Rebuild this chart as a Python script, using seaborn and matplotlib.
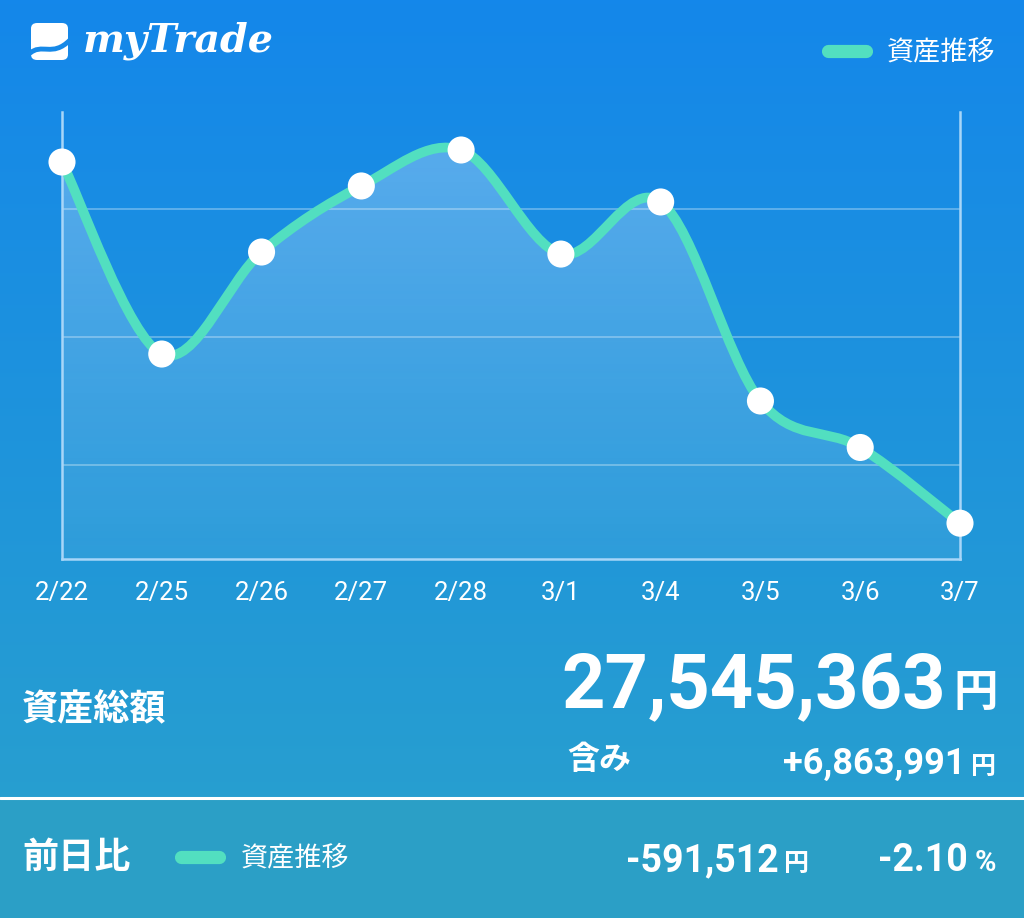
import matplotlib
matplotlib.use("Agg")
import matplotlib.pyplot as plt
import numpy as np
import pandas as pd
import seaborn as sns
from matplotlib.path import Path
from matplotlib.patches import PathPatch, FancyBboxPatch, Rectangle
from matplotlib.lines import Line2D

sns.set_theme(style="white")
plt.rcParams['font.family'] = ['Roboto', 'Noto Sans CJK JP', 'DejaVu Sans']

# データ (資産推移)
dates = ["2/22", "2/25", "2/26", "2/27", "2/28", "3/1", "3/4", "3/5", "3/6", "3/7"]
assets = [30367000, 28867000, 29664000, 30180000, 30461000,
          29648000, 30055000, 28500000, 28136875, 27545363]
grid_levels = [28000000, 29000000, 30000000]
total_text = "27,545,363"
included_text = "+6,863,991"
diff_text = "-591,512"
pct_text = "-2.10"

W, H = 1024, 918
LINE_C = "#52DFC0"

df = pd.DataFrame({"date": dates, "asset": assets})
df["x"] = range(len(df))

fig = plt.figure(figsize=(W / 100, H / 100), dpi=100)


def px(x, y):
    return x / W, 1 - y / H


# 背景グラデーション
bg = fig.add_axes([0, 0, 1, 1], zorder=-10)
top_c = np.array([20, 135, 234]) / 255
bot_c = np.array([42, 162, 204]) / 255
t = np.linspace(0, 1, 256)[:, None]
grad = top_c[None, :] * (1 - t) + bot_c[None, :] * t
bg.imshow(grad[:, None, :], aspect="auto", extent=(0, 1, 0, 1))
bg.add_patch(Rectangle((0, 0), 1, (H - 798) / H, color="#2B9FC6", zorder=2))
bg.axhline((H - 798) / H, color="white", lw=2.2, zorder=3)
bg.set_xlim(0, 1)
bg.set_ylim(0, 1)
bg.axis("off")

# メインチャート
ax = fig.add_axes([62 / W, (H - 559) / H, 898 / W, 447 / H])
ax.set_facecolor("none")

ymin, ymax = 27265625, 30757812
ax.set_xlim(0, len(dates) - 1)
ax.set_ylim(ymin, ymax)

# 滑らかな曲線 (Catmull-Rom -> Bezier)
xs = df["x"].to_numpy(float)
ys = df["asset"].to_numpy(float)
n = len(xs)
verts = [(xs[0], ys[0])]
codes = [Path.MOVETO]
for i in range(n - 1):
    p0 = np.array([xs[max(i - 1, 0)], ys[max(i - 1, 0)]])
    p1 = np.array([xs[i], ys[i]])
    p2 = np.array([xs[i + 1], ys[i + 1]])
    p3 = np.array([xs[min(i + 2, n - 1)], ys[min(i + 2, n - 1)]])
    c1 = p1 + (p2 - p0) / 6
    c2 = p2 - (p3 - p1) / 6
    verts += [tuple(c1), tuple(c2), tuple(p2)]
    codes += [Path.CURVE4] * 3

line_path = Path(verts, codes)
fill_verts = verts + [(xs[-1], ymin), (xs[0], ymin), (xs[0], ys[0])]
fill_codes = codes + [Path.LINETO, Path.LINETO, Path.CLOSEPOLY]
fill_patch = PathPatch(Path(fill_verts, fill_codes), facecolor="none", edgecolor="none")
ax.add_patch(fill_patch)

ga = np.linspace(0, 1, 256)[:, None]
rgba = np.ones((256, 1, 4))
rgba[:, 0, 3] = 0.30 * (1 - ga[:, 0]) + 0.06 * ga[:, 0]
im = ax.imshow(rgba, aspect="auto", extent=(0, n - 1, ymin, ymax), origin="upper", zorder=1)
im.set_clip_path(fill_patch)

for g in grid_levels:
    ax.axhline(g, color="white", alpha=0.35, lw=1.2, zorder=0.5)

ax.add_patch(PathPatch(line_path, facecolor="none", edgecolor=LINE_C, lw=7,
                       capstyle="round", joinstyle="round", zorder=3))

sns.scatterplot(data=df, x="x", y="asset", ax=ax, s=380, color="white",
                edgecolor="none", zorder=4, clip_on=False, legend=False)

ax.set_xticks(df["x"])
ax.set_xticklabels(dates)
ax.set_yticks([])
ax.set_xlabel("")
ax.set_ylabel("")
ax.tick_params(axis="x", length=0, pad=16, labelsize=18.5, labelcolor="white")
for side in ["left", "right", "bottom"]:
    ax.spines[side].set_visible(True)
    ax.spines[side].set_color("#A8D6F8")
    ax.spines[side].set_linewidth(1.8)
ax.spines["top"].set_visible(False)

# ロゴ
logo = FancyBboxPatch(px(31, 60), 37 / W, 37 / H, boxstyle="round,pad=0,rounding_size=0.006",
                      transform=fig.transFigure, facecolor="white", edgecolor="none")
fig.patches.append(logo)
wave = Path([px(29, 54), px(42, 42), px(52, 58), px(70, 40)],
            [Path.MOVETO, Path.CURVE4, Path.CURVE4, Path.CURVE4])
fig.patches.append(PathPatch(wave, transform=fig.transFigure, facecolor="none",
                             edgecolor="#1689E8", lw=3.5))
fig.text(*px(83, 41), "myTrade", family=["DejaVu Serif"], style="italic", weight="bold",
         fontsize=28.5, color="white", va="center", ha="left")

# 凡例
fig.lines.append(Line2D([828 / W, 866 / W], [1 - 51 / H] * 2, transform=fig.transFigure,
                        color=LINE_C, lw=9.5, solid_capstyle="round"))
fig.text(*px(887, 52), "資産推移", fontsize=19.5, color="white", va="center", ha="left")

# 資産総額
fig.text(*px(22, 710), "資産総額", fontsize=26, weight="bold", color="white", va="center", ha="left")
fig.text(*px(946, 707), total_text, fontsize=54.5, weight="bold", color="white", va="baseline", ha="right")
fig.text(*px(998, 706), "円", fontsize=32, weight="bold", color="white", va="baseline", ha="right")
fig.text(*px(567, 760), "含み", fontsize=23, weight="bold", color="white", va="center", ha="left")
fig.text(*px(966, 774), included_text, fontsize=26, weight="bold", color="white", va="baseline", ha="right")
fig.text(*px(996, 774), "円", fontsize=18, weight="bold", color="white", va="baseline", ha="right")

# 前日比
fig.text(*px(22, 858), "前日比", fontsize=26, weight="bold", color="white", va="center", ha="left")
fig.lines.append(Line2D([181 / W, 219 / W], [1 - 857 / H] * 2, transform=fig.transFigure,
                        color=LINE_C, lw=9.5, solid_capstyle="round"))
fig.text(*px(241, 858), "資産推移", fontsize=19.5, color="white", va="center", ha="left")
fig.text(*px(779, 871), diff_text, fontsize=27, weight="bold", color="white", va="baseline", ha="right")
fig.text(*px(809, 871), "円", fontsize=18, weight="bold", color="white", va="baseline", ha="right")
fig.text(*px(968, 871), pct_text, fontsize=27, weight="bold", color="white", va="baseline", ha="right")
fig.text(*px(996, 871), "%", fontsize=21, weight="bold", color="white", va="baseline", ha="right")

fig.savefig("out.png", dpi=100)
